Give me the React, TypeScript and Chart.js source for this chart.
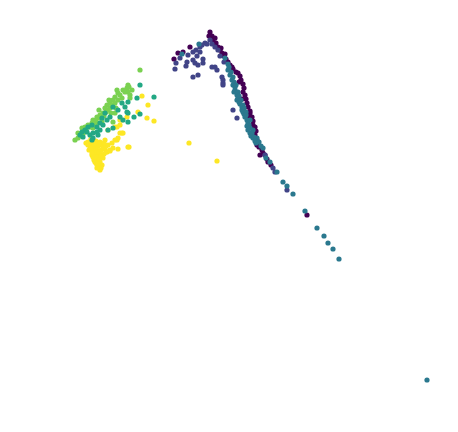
import React, { useEffect, useRef } from "react";
import { Chart, registerables } from "chart.js";

Chart.register(...registerables);

type P = [number, number];

const classNames = ["0", "1", "2", "3", "4", "5"];
const classColors = ["#440154", "#414487", "#2a788e", "#22a884", "#7ad151", "#fde725"];
// higher order values are drawn first (underneath) in Chart.js
const drawOrder = [6, 5, 4, 1, 2, 3];

const class0: P[] = [
  [174,59],[178,53],[183,52],[190,47],[210,32],[212,36],[213,40],[216,43],[218,47],[220,50],[222,53],[224,56],[226,59],[228,62],[230,65],[233,69],[236,72],[238,73],[240,76],[241,80],[243,84],[244,88],[243,92],[245,95],[246,99],[247,103],[248,107],[250,111],[250,113],[252,117],[253,121],[253,125],[255,127],[256,131],[252,127],[255,135],[257,140],[257,145],[259,147],[262,150],[263,153],[265,155],[267,159],[268,162],[271,165],[307,215],[209,36],[215,38],[221,48],[225,54],[232,67],[239,82],[242,99],[249,116],[254,131],[260,155],
];
const class1: P[] = [
  [176,63],[175,69],[187,62],[186,66],[193,60],[195,63],[197,56],[198,65],[203,63],[203,59],[193,77],[198,75],[212,67],[217,70],[215,67],[222,77],[223,80],[223,83],[223,85],[233,110],[237,118],[193,52],[200,47],[205,43],[210,40],[215,47],[218,50],[196,50],[202,45],[207,44],[212,44],[220,56],[224,62],[273,168],[275,172],[287,190],[265,155],[180,58],[188,55],[200,52],
];
const class2: P[] = [
  [182,54],[199,44],[225,58],[228,64],[228,70],[230,75],[232,80],[233,85],[235,87],[235,90],[237,95],[238,98],[237,100],[240,104],[242,107],[242,110],[243,112],[245,117],[247,120],[248,123],[250,120],[247,126],[248,130],[250,133],[253,130],[253,138],[257,138],[256,143],[263,148],[266,158],[270,162],[277,172],[283,182],[287,186],[293,194],[305,211],[317,228],[324,236],[328,243],[333,249],[339,259],[427,380],[234,92],[239,102],[244,114],[251,136],[255,141],
  [229,67],[231,72],[233,77],[234,82],[236,85],[238,92],[239,96],[241,100],[243,105],[244,108],[246,112],[246,115],[249,125],[250,128],[252,133],[254,137],[259,142],[261,146],
];
const class3: P[] = [
  [140,85],[154,97],[137,98],[128,102],[122,103],[125,107],[118,110],[127,112],[128,113],[140,114],[134,117],[128,122],[108,130],[113,128],[103,125],[100,123],[97,127],[92,125],[88,127],[85,130],[87,132],[82,132],[80,135],[83,137],[90,135],[93,133],[98,135],[100,130],[107,120],[110,117],[113,107],[120,117],[123,120],[102,118],[105,113],[97,132],[92,140],[93,138],
];
const class4: P[] = [
  [140,70],[128,85],[128,92],[130,95],[123,90],[118,93],[115,97],[113,100],[110,103],[107,105],[105,108],[108,110],[103,113],[100,115],[97,117],[93,120],[92,123],[88,125],[85,127],[82,128],[78,133],[75,140],[78,138],[93,128],[99,110],[109,100],[127,88],[117,90],[97,123],[102,122],[115,113],[113,122],
  [120,95],[122,98],[118,100],[115,103],[112,105],[110,108],[106,112],[104,116],[100,118],[96,120],[94,124],[90,127],[86,130],[83,134],[80,136],[125,92],[132,90],[129,87],[130,98],[116,108],[111,113],
];
const class5: P[] = [
  [142,96],[148,105],[138,112],[147,118],[154,121],[127,117],[122,120],[120,125],[115,127],[108,130],[122,133],[118,138],[117,140],[112,143],[128,147],[118,149],[113,148],[110,150],[107,152],[120,120],[117,127],[115,140],[120,133],[123,133],[129,147],
  [88,142],[92,143],[96,141],[100,142],[90,146],[94,147],[98,146],[102,145],[89,150],[93,151],[97,150],[101,150],[105,149],[92,155],[96,155],[100,154],[104,154],[95,159],[99,158],[103,158],[96,163],[100,162],[98,167],[100,170],[97,165],[106,152],[110,151],[108,145],[105,140],[91,139],[86,143],[94,160],[102,165],
  [88,145],[91,148],[95,144],[99,144],[103,147],[96,152],[99,152],[93,157],[97,157],[101,156],[99,160],[95,162],[98,164],[101,168],[97,168],[106,146],[104,143],[92,153],
  [189,143],[217,161],
];

const classData: P[][] = [class0, class1, class2, class3, class4, class5];

export default function App() {
  const ref = useRef<HTMLCanvasElement | null>(null);
  useEffect(() => {
    if (!ref.current) return;
    const chart = new Chart(ref.current, {
      type: "scatter",
      data: {
        datasets: classData.map((pts, i) => ({
          label: classNames[i],
          data: pts.map(([x, y]) => ({ x, y })),
          backgroundColor: classColors[i],
          borderWidth: 0,
          pointRadius: 2.6,
          pointHoverRadius: 2.6,
          order: drawOrder[i],
        })),
      },
      options: {
        responsive: false,
        animation: false,
        layout: { padding: 0, autoPadding: false },
        plugins: { legend: { display: false }, tooltip: { enabled: false } },
        scales: {
          x: { type: "linear", min: 0, max: 458, display: false },
          y: { type: "linear", min: 0, max: 432, reverse: true, display: false },
        },
      },
    });
    return () => chart.destroy();
  }, []);
  return (
    <div style={{ position: "absolute", left: 0, top: 0, width: 458, height: 432, background: "#fff" }}>
      <canvas ref={ref} width={458} height={432} />
    </div>
  );
}
